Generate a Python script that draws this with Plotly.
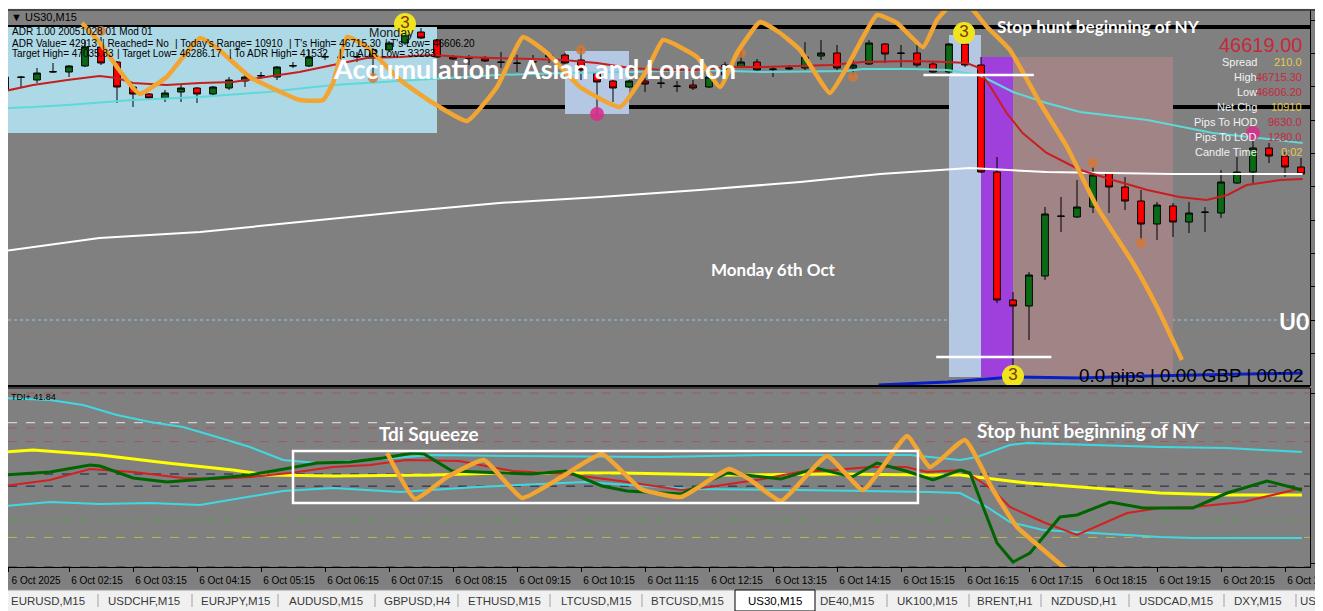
import plotly.graph_objects as go

# ---------------- price data: US30 M15, 6 Oct (index 0 = 01:15 bar) ----------------
bar_idx = list(range(82))
opens = [46678.0, 46685.8, 46684.0, 46688.8, 46688.8, 46692.4, 46703.8, 46694.8, 46679.8, 46675.6,
         46673.2, 46676.8, 46679.2, 46675.6, 46679.2, 46683.4, 46686.4, 46685.8, 46692.4, 46692.4,
         46697.8, 46697.8, 46697.8, 46697.8, 46702.0, 46706.2, 46712.8, 46708.0, 46697.8, 46697.2,
         46697.2, 46694.8, 46694.2, 46694.8, 46697.8, 46699.0, 46696.0, 46688.2, 46683.4, 46679.8,
         46683.4, 46682.2, 46680.4, 46681.0, 46679.8, 46687.0, 46691.8, 46694.8, 46690.6, 46690.6,
         46691.2, 46698.4, 46700.2, 46691.2, 46693.6, 46705.6, 46700.2, 46700.2, 46693.6, 46688.8,
         46705.6, 46693.0, 46628.8, 46552.0, 46548.4, 46566.4, 46602.4, 46601.8, 46607.8, 46628.2,
         46619.8, 46611.4, 46597.6, 46608.4, 46598.8, 46604.8, 46604.2, 46622.2, 46628.8, 46643.2,
         46638.4, 46631.8]
highs = [46687.6, 46686.4, 46691.2, 46694.2, 46693.0, 46708.0, 46709.8, 46695.4, 46680.4, 46676.2,
         46678.0, 46681.0, 46679.8, 46680.4, 46685.8, 46687.0, 46688.8, 46692.4, 46694.8, 46702.0,
         46700.2, 46702.0, 46700.8, 46703.2, 46707.4, 46715.2, 46715.2, 46708.6, 46699.0, 46699.0,
         46698.4, 46700.8, 46699.0, 46699.0, 46700.2, 46700.2, 46703.2, 46688.8, 46684.0, 46684.0,
         46685.2, 46685.8, 46683.4, 46684.0, 46690.0, 46694.8, 46702.0, 46696.6, 46692.4, 46693.0,
         46706.8, 46708.0, 46705.0, 46697.8, 46708.0, 46706.2, 46705.0, 46705.0, 46695.4, 46706.2,
         46711.0, 46697.8, 46637.8, 46556.8, 46568.8, 46607.8, 46613.8, 46624.0, 46631.8, 46628.8,
         46625.8, 46618.0, 46610.8, 46610.2, 46610.8, 46607.8, 46630.0, 46637.8, 46652.2, 46646.2,
         46640.8, 46637.2]
lows = [46676.8, 46679.2, 46682.2, 46688.2, 46685.8, 46691.8, 46693.0, 46670.2, 46667.8, 46672.0,
        46670.8, 46670.8, 46670.2, 46675.0, 46678.0, 46679.8, 46684.6, 46684.0, 46691.2, 46691.8,
        46696.0, 46696.0, 46694.8, 46685.8, 46701.4, 46705.0, 46708.6, 46697.2, 46696.0, 46693.0,
        46694.8, 46691.2, 46688.8, 46693.0, 46694.2, 46693.6, 46684.0, 46663.0, 46670.8, 46679.2,
        46676.8, 46679.2, 46676.8, 46678.0, 46679.2, 46685.2, 46691.2, 46688.8, 46685.8, 46690.0,
        46690.0, 46696.0, 46690.0, 46687.0, 46693.0, 46694.2, 46691.8, 46691.8, 46688.2, 46687.0,
        46691.8, 46628.2, 46550.2, 46505.8, 46528.0, 46564.0, 46592.8, 46601.2, 46604.2, 46604.2,
        46606.0, 46588.0, 46588.0, 46589.8, 46592.2, 46592.8, 46601.2, 46621.6, 46622.2, 46634.2,
        46625.8, 46627.0]
closes = [46685.8, 46685.6, 46688.2, 46689.0, 46692.4, 46703.8, 46694.2, 46679.8, 46675.6, 46673.2,
          46676.2, 46679.2, 46675.6, 46679.8, 46684.0, 46685.8, 46686.6, 46691.8, 46692.6, 46697.8,
          46698.0, 46697.6, 46698.0, 46702.0, 46706.2, 46714.0, 46709.2, 46697.8, 46696.6, 46697.0,
          46695.4, 46694.6, 46694.0, 46695.0, 46699.0, 46694.2, 46690.0, 46682.8, 46679.2, 46683.4,
          46681.6, 46682.0, 46680.2, 46679.2, 46685.8, 46693.0, 46694.8, 46690.0, 46690.4, 46691.2,
          46697.8, 46700.2, 46691.2, 46693.0, 46706.2, 46699.6, 46700.0, 46693.0, 46688.8, 46705.6,
          46693.0, 46628.8, 46552.0, 46548.4, 46567.0, 46603.6, 46602.2, 46607.8, 46627.0, 46619.8,
          46611.4, 46597.6, 46609.0, 46598.8, 46604.2, 46604.6, 46622.8, 46628.8, 46643.2, 46638.4,
          46631.8, 46627.6]

time_ticks = [0.19, 4, 8, 12, 16, 20, 24, 28, 32, 36, 40, 44, 48, 52, 56, 60, 64, 68, 72, 76, 80]
time_labels = ["6 Oct 2025", "6 Oct 02:15", "6 Oct 03:15", "6 Oct 04:15", "6 Oct 05:15",
               "6 Oct 06:15", "6 Oct 07:15", "6 Oct 08:15", "6 Oct 09:15", "6 Oct 10:15",
               "6 Oct 11:15", "6 Oct 12:15", "6 Oct 13:15", "6 Oct 14:15", "6 Oct 15:15",
               "6 Oct 16:15", "6 Oct 17:15", "6 Oct 18:15", "6 Oct 19:15", "6 Oct 20:15",
               "6 Oct 21:15"]

# moving averages on the price chart
ma_red_x = [0, 1.75, 3.9, 5.9, 7, 8, 10.1, 12.2, 14.25, 16.4, 18.4, 20.5, 22.6, 24.7, 26.75, 28.6,
            30.75, 34.9, 37, 39.1, 41.1, 43.25, 45.3, 47.4, 49.5, 51.6, 53.6, 56.75, 58.9, 60.1,
            60.75, 61.6, 62.6, 63.6, 65.1, 67.2, 69.25, 71.4, 73.4, 75.1, 76.4, 77.6, 79.7, 81.1]
ma_red_y = [46677.4, 46681.0, 46684.0, 46686.4, 46685.2, 46682.2, 46681.0, 46682.2, 46682.8, 46685.8,
            46688.8, 46693.0, 46697.2, 46697.8, 46699.0, 46697.8, 46697.2, 46696.0, 46694.2, 46691.2,
            46690.0, 46690.0, 46691.8, 46691.8, 46692.4, 46693.0, 46694.8, 46695.4, 46694.8, 46694.2,
            46691.8, 46679.8, 46664.2, 46652.2, 46640.2, 46630.0, 46624.0, 46618.0, 46613.8, 46612.0,
            46615.0, 46621.0, 46624.0, 46624.6]
ma_cyan_x = [0, 1.75, 3.9, 8, 12.2, 16.4, 20.5, 24.7, 26.75, 30.75, 34.9, 39.1, 43.25, 47.4, 52.6,
             53.6, 56.75, 58.9, 60.9, 63, 65.1, 67.2, 71.4, 75.5, 81.1]
ma_cyan_y = [46667.2, 46667.8, 46669.0, 46672.0, 46673.8, 46676.8, 46681.0, 46683.4, 46684.6, 46687.0,
             46688.2, 46688.8, 46690.0, 46688.8, 46689.4, 46690.6, 46690.6, 46690.0, 46687.0, 46676.8,
             46670.2, 46664.8, 46660.0, 46652.2, 46646.2]
ma_white_x = [0, 5.9, 12.2, 18.4, 24.7, 30.9, 37.2, 43.4, 49.7, 54.7, 60.3, 65.1, 73, 81.1]
ma_white_y = [46581.4, 46589.2, 46592.8, 46598.8, 46604.8, 46610.2, 46613.8, 46618.0, 46622.8, 46627.6,
              46631.2, 46628.8, 46627.6, 46627.6]
blue_x = [54.6, 58.9, 63, 67.2, 71.4, 75.5, 81.1]
blue_y = [46501.0, 46502.8, 46505.8, 46505.2, 46506.4, 46507.0, 46508.2]

# hand-drawn orange zigzag over price
draw_px_x = [4.81, 5.94, 7.0, 8.0, 8.44, 10.1, 12.19, 13.25, 15.31, 18.44, 19.88, 20.5, 21.38, 22.63,
             24.69, 26.75, 28.88, 30.75, 32.38, 33.88, 35.94, 38.44, 40.13, 41.13, 43.25, 44.69,
             45.75, 47.19, 48.44, 49.69, 51.56, 52.63, 54.5, 55.75, 57.38, 58.25, 59.25, 60.31,
             61.38, 62.81, 64.69, 66.38, 68.25, 70.5, 72.0, 73.56]
draw_px_y = [46718.2, 46706.2, 46691.8, 46679.2, 46675.6, 46685.8, 46709.2, 46703.2, 46685.8, 46672.0,
             46672.0, 46682.2, 46709.8, 46703.8, 46684.0, 46670.2, 46659.4, 46679.8, 46709.8, 46700.2,
             46679.8, 46667.8, 46690.0, 46708.0, 46697.8, 46679.8, 46700.2, 46718.8, 46712.2, 46702.0,
             46676.2, 46691.8, 46723.0, 46718.2, 46703.8, 46720.0, 46730.2, 46727.8, 46715.8, 46702.0,
             46670.2, 46643.8, 46607.8, 46574.2, 46547.8, 46516.0]

# levels and zones
level_black = [46715.8, 46667.8]
level_dotted = 46540.0
zone_asia = [0, 27, 46652.2, 46715.8]
zone_london = [35, 39, 46663.6, 46701.4]
zone_ny_open = [59, 61, 46505.8, 46711.0]
zone_purple = [61, 63, 46505.8, 46697.8]
zone_pink = [63, 73, 46505.8, 46697.8]
white_marks = [[57.4, 64.3, 46687.0], [58.2, 65.4, 46517.8]]

fractal_x = [6, 23, 36, 46, 53, 68, 71]
fractal_y = [46713.4, 46685.2, 46702.0, 46700.2, 46685.8, 46634.2, 46586.2]
pink_dot_x = [37, 78]
pink_dot_y = [46663.6, 46652.2]
three_x = [25, 59.94, 63]
three_y = [46717.6, 46712.2, 46506.4]

# ---------------- TDI sub-window ----------------
tdi_up_x = [0, 2.81, 4.88, 7.0, 9.06, 11.13, 13.25, 15.31, 17.38, 19.5, 22.63, 26.75, 31.75, 40.69,
            47.38, 54.06, 56.56, 59.69, 60.75, 62.81, 63.88, 68.0, 72.19, 76.38, 81.06]
tdi_up_y = [78.15, 77.41, 75.56, 71.85, 69.26, 67.41, 63.70, 60.0, 55.19, 54.07, 55.19, 57.04, 56.67,
            56.30, 57.04, 57.04, 57.04, 55.19, 56.30, 60.74, 61.48, 60.74, 60.0, 59.63, 58.15]
tdi_lo_x = [0, 2.81, 5.94, 9.06, 12.19, 15.31, 17.38, 20.5, 24.69, 29.5, 36.19, 42.88, 49.63, 57.81,
            59.69, 61.38, 62.81, 64.88, 68.0, 72.19, 74.25, 81.06]
tdi_lo_y = [38.15, 39.63, 38.89, 39.26, 38.52, 41.48, 43.70, 44.81, 43.33, 45.19, 47.04, 44.44, 44.07,
            43.33, 42.96, 37.78, 32.22, 29.26, 28.15, 26.67, 26.30, 26.30]
tdi_mid_x = [0, 1.75, 5.94, 10.13, 14.25, 16.38, 20.5, 26.75, 30.94, 38.44, 45.13, 51.81, 57.81,
             59.69, 63.88, 68.0, 72.19, 76.38, 81.06]
tdi_mid_y = [58.15, 58.89, 57.04, 54.07, 51.48, 49.63, 49.26, 49.63, 50.37, 50.37, 49.63, 50.0, 49.63,
             49.63, 46.67, 44.81, 42.96, 42.22, 42.22]
tdi_rsi_x = [0, 2.81, 5.31, 5.94, 8.0, 10.13, 13.25, 15.31, 17.81, 19.5, 21.56, 23.63, 25.5, 26.19,
             27.94, 30.63, 32.88, 35.06, 37.31, 38.88, 42.25, 44.25, 45.13, 47.38, 48.5, 50.69, 52.94,
             54.5, 56.31, 58.0, 59.69, 60.31, 62.0, 63.0, 64.06, 65.94, 67.0, 69.06, 71.13, 74.25,
             76.38, 78.88, 81.06]
tdi_rsi_y = [49.63, 50.74, 53.33, 52.96, 48.52, 47.04, 48.52, 49.63, 52.22, 54.07, 54.44, 55.93, 57.78,
             57.41, 51.11, 50.37, 50.0, 51.11, 45.56, 43.70, 42.59, 48.15, 50.37, 48.89, 48.15, 52.22,
             48.89, 54.07, 51.11, 47.78, 51.48, 50.37, 24.44, 17.41, 20.74, 34.07, 34.81, 39.63, 37.41,
             37.41, 42.96, 47.41, 44.07]
tdi_sig_x = [0, 2.81, 5.31, 8.0, 11.13, 13.25, 15.31, 17.81, 20.5, 22.81, 25.06, 28.38, 31.75, 35.06,
             38.44, 42.25, 44.0, 47.38, 49.63, 51.81, 54.06, 56.31, 57.63, 59.88, 61.75, 62.81, 64.88,
             67.0, 70.13, 72.19, 74.25, 77.38, 81.06]
tdi_sig_y = [45.56, 47.78, 51.85, 50.74, 48.52, 48.15, 48.89, 50.37, 52.59, 53.33, 55.19, 54.81, 51.11,
             50.0, 47.41, 44.07, 45.19, 48.15, 50.74, 51.48, 52.59, 52.59, 50.74, 51.48, 44.07, 37.78,
             32.22, 27.41, 35.56, 37.41, 37.78, 39.63, 44.81]
draw_tdi_x = [23.88, 25.63, 27.63, 29.94, 32.31, 34.88, 37.31, 39.75, 42.25, 45.25, 46.5, 48.5, 51.38,
              53.63, 56.38, 57.81, 60.0, 61.75, 63.25, 64.69, 66.38, 67.06]
draw_tdi_y = [57.78, 40.74, 48.89, 55.19, 41.11, 49.26, 57.41, 44.44, 41.48, 51.85, 48.15, 40.0, 56.67,
              44.07, 64.07, 52.59, 62.59, 44.07, 30.37, 22.96, 14.44, 10.74]
tdi_levels = [80, 69, 67, 62, 50, 45.5, 33.5, 26.5, 15.6]
tdi_level_colors = ["#a05a5a", "#e6e6e6", "#a05a5a", "#a05a5a", "#1e1e46", "#1e1e46",
                    "#5f9a4f", "#b8b84a", "#404040"]
squeeze_box = [18.0, 57.06, 39.26, 58.52]

info_labels = ["Spread", "High", "Low", "Net Chg", "Pips To HOD", "Pips To LOD", "Candle Time"]
info_values = ["210.0", "46715.30", "46606.20", "10910", "9630.0", "1280.0", "0:02"]
tabs = ["EURUSD,M15", "USDCHF,M15", "EURJPY,M15", "AUDUSD,M15", "GBPUSD,H4", "ETHUSD,M15",
        "LTCUSD,M15", "BTCUSD,M15", "US30,M15", "DE40,M15", "UK100,M15", "BRENT,H1", "NZDUSD,H1",
        "USDCAD,M15", "DXY,M15", "US500,M15"]

# ---------------- layout: the page puts the figure 8px in, so size it to end at the window edge ----------------
OX, OY = 8, 8
W, H = 1323 - OX, 611 - OY
SX0, SX1, SY0, SY1 = 8, 1310, 10, 567          # plot box in window pixels
ML, MR, MT, MB = SX0 - OX, W - (SX1 - OX), SY0 - OY, H - (SY1 - OY)
PW, PH = SX1 - SX0, SY1 - SY0


def fx(x):
    return (x - SX0) / PW


def fy(y):
    return (SY1 - y) / PH


GRAY = "#808080"
ORANGE = "#f2a531"
CRIMSON = "#c8283c"
GOLD = "#e8c84a"

fig = go.Figure()

# price traces
fig.add_trace(go.Scatter(x=ma_white_x, y=ma_white_y, mode="lines", line=dict(color="white", width=2)))
fig.add_trace(go.Scatter(x=ma_cyan_x, y=ma_cyan_y, mode="lines", line=dict(color="#5fd8d8", width=2)))
fig.add_trace(go.Scatter(x=ma_red_x, y=ma_red_y, mode="lines", line=dict(color="#c81e1e", width=2)))
fig.add_trace(go.Candlestick(
    x=bar_idx, open=opens, high=highs, low=lows, close=closes,
    increasing=dict(fillcolor="#0b6b15", line=dict(color="black", width=1)),
    decreasing=dict(fillcolor="#ff0000", line=dict(color="black", width=1)),
    whiskerwidth=0, hoverinfo="skip"))
fig.add_trace(go.Scatter(x=blue_x, y=blue_y, mode="lines", line=dict(color="#0a1ec8", width=3)))
fig.add_trace(go.Scatter(x=fractal_x, y=fractal_y, mode="markers",
                         marker=dict(size=10, color="rgba(214,120,50,0.8)")))
fig.add_trace(go.Scatter(x=pink_dot_x, y=pink_dot_y, mode="markers",
                         marker=dict(size=14, color="rgba(214,48,140,0.9)")))
fig.add_trace(go.Scatter(x=draw_px_x, y=draw_px_y, mode="lines",
                         line=dict(color=ORANGE, width=4.5, shape="spline", smoothing=0.4)))
fig.add_trace(go.Scatter(x=three_x, y=three_y, mode="markers+text", text=["3", "3", "3"],
                         textposition="middle center", cliponaxis=False,
                         textfont=dict(size=17, color="#7a3c00", family="Liberation Sans"),
                         marker=dict(size=22, color="#f0e41e")))

# TDI traces
for xs, ys, col, wd in [(tdi_up_x, tdi_up_y, "#40d8e0", 2), (tdi_lo_x, tdi_lo_y, "#40d8e0", 2),
                        (tdi_mid_x, tdi_mid_y, "#ffff00", 3), (tdi_sig_x, tdi_sig_y, "#d42020", 2),
                        (tdi_rsi_x, tdi_rsi_y, "#006400", 3)]:
    fig.add_trace(go.Scatter(x=xs, y=ys, mode="lines", yaxis="y2", line=dict(color=col, width=wd)))
fig.add_trace(go.Scatter(x=draw_tdi_x, y=draw_tdi_y, mode="lines", yaxis="y2",
                         line=dict(color=ORANGE, width=4.5, shape="spline", smoothing=0.4)))

shapes = []
for z, col in [(zone_asia, "#add8e6"), (zone_london, "#b4c8e4"), (zone_ny_open, "#b4c8e4"),
               (zone_purple, "#a040dc"), (zone_pink, "#a08486")]:
    shapes.append(dict(type="rect", xref="x", yref="y", x0=z[0], x1=z[1], y0=z[2], y1=z[3],
                       fillcolor=col, line=dict(width=0), layer="below"))
shapes.append(dict(type="line", xref="paper", yref="y", x0=0, x1=1, y0=level_dotted, y1=level_dotted,
                   line=dict(color="#8ec8f0", width=1, dash="dot"), layer="below"))
for lv in level_black:
    shapes.append(dict(type="line", xref="paper", yref="y", x0=0, x1=1, y0=lv, y1=lv,
                       line=dict(color="black", width=4), layer="below"))
for a, b, lv in white_marks:
    shapes.append(dict(type="line", xref="x", yref="y", x0=a, x1=b, y0=lv, y1=lv,
                       line=dict(color="white", width=2.5)))
for lv, col in zip(tdi_levels, tdi_level_colors):
    shapes.append(dict(type="line", xref="paper", yref="y2", x0=0, x1=1, y0=lv, y1=lv,
                       line=dict(color=col, width=1, dash="dash"), layer="below"))
shapes.append(dict(type="rect", xref="x", yref="y2", x0=squeeze_box[0], x1=squeeze_box[1],
                   y0=squeeze_box[2], y1=squeeze_box[3], line=dict(color="white", width=2.5)))
# window frame
shapes.append(dict(type="rect", xref="paper", yref="paper", x0=-0.01, x1=1.02, y0=fy(9), y1=fy(-2),
                   fillcolor="#f4f4f4", line=dict(width=0)))
shapes.append(dict(type="line", xref="paper", yref="paper", x0=0, x1=1.02, y0=1, y1=1,
                   line=dict(color="#303030", width=1.5)))
shapes.append(dict(type="line", xref="paper", yref="y domain", x0=0, x1=1, y0=0, y1=0,
                   line=dict(color="black", width=2)))
shapes.append(dict(type="line", xref="paper", yref="y2 domain", x0=0, x1=1, y0=1, y1=1,
                   line=dict(color="black", width=1)))
shapes.append(dict(type="rect", xref="paper", yref="paper", x0=-0.01, x1=1.02, y0=fy(612), y1=fy(590),
                   fillcolor="#f0f0f0", line=dict(width=0)))
shapes.append(dict(type="line", xref="paper", yref="paper", x0=-0.01, x1=1.02, y0=fy(590), y1=fy(590),
                   line=dict(color="#9a9a9a", width=1)))
for sx in [98, 192, 278, 375, 458, 550, 642, 887, 969, 1041, 1129, 1224, 1296]:
    shapes.append(dict(type="line", xref="paper", yref="paper", x0=fx(sx), x1=fx(sx),
                       y0=fy(594), y1=fy(607), line=dict(color="#a0a0a0", width=1)))
shapes.append(dict(type="rect", xref="paper", yref="paper", x0=fx(735), x1=fx(815),
                   y0=fy(611), y1=fy(590), fillcolor="white", line=dict(color="black", width=1)))

ann = []


def txt(s, x, y, size, color, family="Liberation Sans", anchor="left"):
    ann.append(dict(text=s, x=fx(x), y=fy(y), xref="paper", yref="paper", showarrow=False,
                    xanchor=anchor, yanchor="middle", font=dict(size=size, color=color, family=family)))


txt("▼ US30,M15", 9, 17, 11, "black")
txt("ADR 1.00 20051028 01 Mod 01", 10, 32, 10, "black")
for s, x in [("ADR Value= 42913", 10), ("| Reached= No", 100), ("| Today's Range= 10910", 173),
             ("| T's High= 46715.30", 287), ("| T's Low= 46606.20", 383)]:
    txt(s, x, 43, 10, "black")
for s, x in [("Target High= 47035.83", 10), ("| Target Low= 46286.17", 115),
             ("| To ADR High= 41532", 227), ("| To ADR Low= 33283", 337)]:
    txt(s, x, 54, 10, "black")
txt("Monday", 367, 33, 12.5, "#202020")
txt("<b>Accumulation</b>", 331, 69, 27, "white", "Lato")
txt("<b>Asian and London</b>", 519, 69, 27, "white", "Lato")
txt("<b>Stop hunt beginning of NY</b>", 995, 27, 17.2, "white", "Lato")
txt("<b>Monday 6th Oct</b>", 709, 269, 17, "white", "Lato")
txt("<b>U0</b>", 1277, 321, 23, "white", "Lato")
txt("0.0 pips | 0.00 GBP | 00:02", 1077, 375, 18.8, "black")
txt("46619.00", 1304, 45, 20, CRIMSON, anchor="right")
for i, (lab, val) in enumerate(zip(info_labels, info_values)):
    yy = 62 + 15 * i
    txt(lab, 1259, yy, 11, "#f2f2f2", anchor="right")
    txt(val, 1304, yy, 11, GOLD if val in ("210.0", "10910", "0:02") else CRIMSON, anchor="right")
txt("TDI+ 41.84", 9, 397, 9, "black")
txt("<b>Tdi Squeeze</b>", 377, 433, 18.9, "white", "Lato")
txt("<b>Stop hunt beginning of NY</b>", 975, 430, 18.9, "white", "Lato")
for name, cx in zip(tabs, [48, 144, 235, 326, 417, 504, 596, 687, 775, 847, 927, 1005, 1084, 1176,
                           1258, 1330]):
    txt(name, cx, 601, 11.5, "black" if name == "US30,M15" else "#3a3a3a", anchor="center")

axis_font = dict(size=10, color="black", family="Liberation Sans")
fig.update_layout(
    width=W, height=H, margin=dict(l=ML, r=MR, t=MT, b=MB, autoexpand=False),
    paper_bgcolor=GRAY, plot_bgcolor=GRAY, showlegend=False, hovermode=False,
    boxgap=0.4, shapes=shapes, annotations=ann,
    xaxis=dict(domain=[0, 1], anchor="y2", range=[(SX0 - 5) / 16, (SX1 - 5) / 16],
               rangeslider=dict(visible=False), automargin=False, ticklabeloverflow="allow",
               tickvals=time_ticks, ticktext=time_labels, ticks="outside", ticklen=4,
               tickcolor="black", showline=True, linecolor="black", linewidth=1, showgrid=False,
               zeroline=False, ticklabelshift=28, tickfont=axis_font),
    yaxis=dict(domain=[fy(386), 1], anchor="x", side="right", range=[46500.4, 46726.0],
               automargin=False, ticklabeloverflow="allow", tick0=46500, dtick=20,
               tickformat=".2f", ticks="outside", ticklen=4, tickcolor="black", showline=True,
               linecolor="black", showgrid=False, zeroline=False, tickfont=axis_font),
    yaxis2=dict(domain=[0, fy(388)], anchor="x", side="right", range=[15.556, 81.852],
                automargin=False, ticklabeloverflow="allow", tickvals=[80, 17],
                ticktext=["80", "17"], ticks="outside", ticklen=4, tickcolor="black",
                showline=True, linecolor="black", showgrid=False, zeroline=False,
                tickfont=axis_font),
)

fig.write_html("out.html")
